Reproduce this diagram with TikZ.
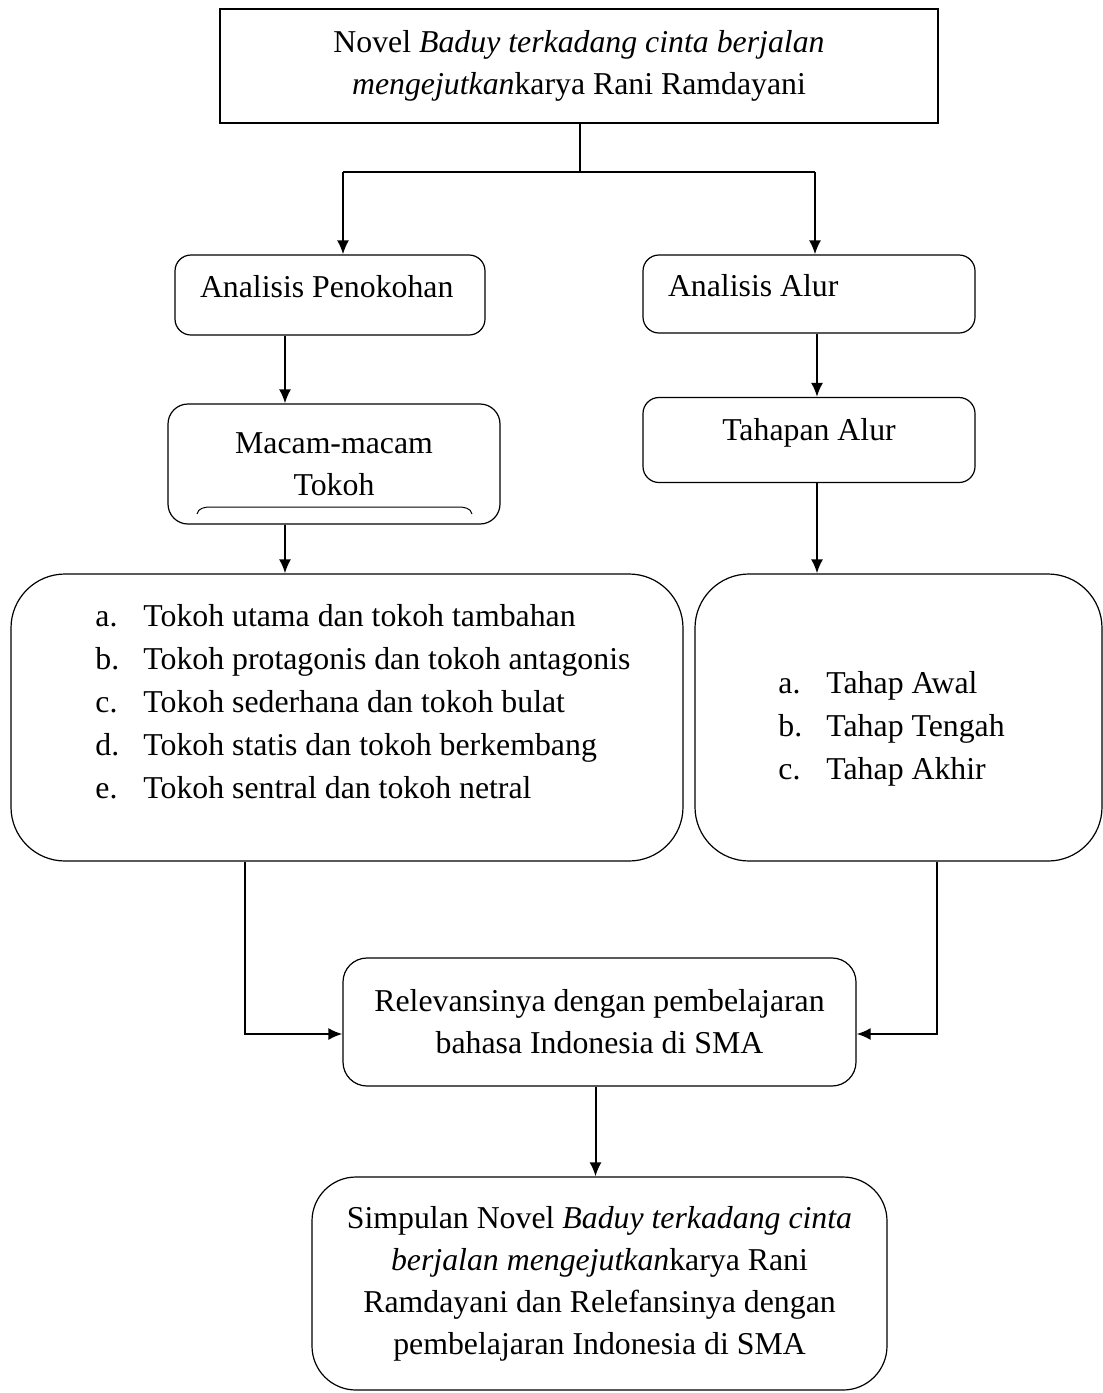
\documentclass[tikz,border=0pt]{standalone}
\usepackage{fontspec}
\setmainfont{Liberation Serif}
\usetikzlibrary{arrows.meta, positioning}

\begin{document}
\begin{tikzpicture}[
    x=0.5pt, y=0.5pt,
    every node/.style={font=\fontsize{15.9}{21}\selectfont},
    plainbox/.style={rectangle, draw, line width=0.6pt, align=center},
    roundbox/.style={rectangle, rounded corners=8pt, draw, line width=0.6pt, align=center},
    listbox/.style={rectangle, rounded corners=27pt, draw, line width=0.6pt},
    listtext/.style={anchor=west, align=left, inner sep=0pt},
    link/.style={line width=1pt},
    arrow/.style={line width=1pt, -{Latex[length=7pt,width=6pt]}}
]
\useasboundingbox (0,0) rectangle (1103,-1393);

% judul
\node[plainbox, minimum width=359pt, minimum height=57pt] (novel) at (579,-66)
    {Novel \textit{Baduy terkadang cinta berjalan}\\\textit{mengejutkan}karya Rani Ramdayani};

% analisis
\node[roundbox, align=flush left, text width=130pt, inner xsep=12.5pt, minimum height=40pt] (penokohan) at (330,-295) {Analisis Penokohan\rule[-9pt]{0pt}{0pt}};
\node[roundbox, align=flush left, text width=141pt, inner xsep=12.5pt, minimum height=39pt] (alur) at (809,-294) {Analisis Alur\rule[-9pt]{0pt}{0pt}};

\node[roundbox, minimum width=166pt, minimum height=60pt, rounded corners=10pt] (macam) at (334,-464) {Macam-macam\\Tokoh};
\draw[line width=0.5pt] (197,-514) to[out=80,in=180] (211,-507) -- (458,-507) to[out=0,in=100] (472,-514);
\node[roundbox, minimum width=166pt, minimum height=42.5pt] (tahapan) at (809,-440) {Tahapan Alur\rule[-11pt]{0pt}{0pt}};

% daftar
\node[listbox, minimum width=336pt, minimum height=143.5pt] (tokoh) at (347,-717.5) {};
\node[listtext] (tokohlist) at (95,-702) {%
    \makebox[24pt][l]{a.}Tokoh utama dan tokoh tambahan\\[0.5pt]
    \makebox[24pt][l]{b.}Tokoh protagonis dan tokoh antagonis\\[0.5pt]
    \makebox[24pt][l]{c.}Tokoh sederhana dan tokoh bulat\\[0.5pt]
    \makebox[24pt][l]{d.}Tokoh statis dan tokoh berkembang\\[0.5pt]
    \makebox[24pt][l]{e.}Tokoh sentral dan tokoh netral};
\node[listbox, minimum width=203.5pt, minimum height=143.5pt] (tahap) at (898.5,-717.5) {};
\node[listtext] (tahaplist) at (778,-729) {%
    \makebox[24pt][l]{a.}Tahap Awal\\[0.5pt]
    \makebox[24pt][l]{b.}Tahap Tengah\\[0.5pt]
    \makebox[24pt][l]{c.}Tahap Akhir};

% hasil
\node[roundbox, minimum width=256.5pt, minimum height=64pt, rounded corners=12pt] (relevansi) at (599.5,-1022)
    {Relevansinya dengan pembelajaran\\bahasa Indonesia di SMA};
\node[roundbox, minimum width=287.5pt, minimum height=106.5pt, rounded corners=22pt] (simpulan) at (599.5,-1283.5)
    {Simpulan Novel \textit{Baduy terkadang cinta}\\\textit{berjalan mengejutkan}karya Rani\\Ramdayani dan Relefansinya dengan\\pembelajaran Indonesia di SMA};

% garis
\coordinate (cabang) at (580,-172);
\coordinate (cabangkiri) at (343,-172);
\coordinate (cabangkanan) at (815,-172);
\draw[line width=0.6pt] (novel.south -| cabang) -- (cabang);
\draw[link] (cabangkiri) -- (cabangkanan);
\draw[arrow] (cabangkiri) -- (cabangkiri |- penokohan.north);
\draw[arrow] (cabangkanan) -- (cabangkanan |- alur.north);
\draw[arrow] ([xshift=-22.5pt]penokohan.south) -- ([xshift=-22.5pt]penokohan.south |- macam.north);
\draw[arrow] ([xshift=4pt]alur.south) -- ([xshift=4pt]alur.south |- tahapan.north);
\draw[arrow] ([xshift=-24.5pt]macam.south) -- ([xshift=-24.5pt]macam.south |- tokoh.north);
\draw[arrow] ([xshift=4pt]tahapan.south) -- ([xshift=4pt]tahapan.south |- tahap.north);
\draw[arrow] ([xshift=-51pt]tokoh.south) |- ([yshift=-6pt]relevansi.west);
\draw[arrow] ([xshift=19pt]tahap.south) |- ([yshift=-6pt]relevansi.east);
\draw[arrow] ([xshift=-2pt]relevansi.south) -- ([xshift=-2pt]simpulan.north);
\end{tikzpicture}
\end{document}
